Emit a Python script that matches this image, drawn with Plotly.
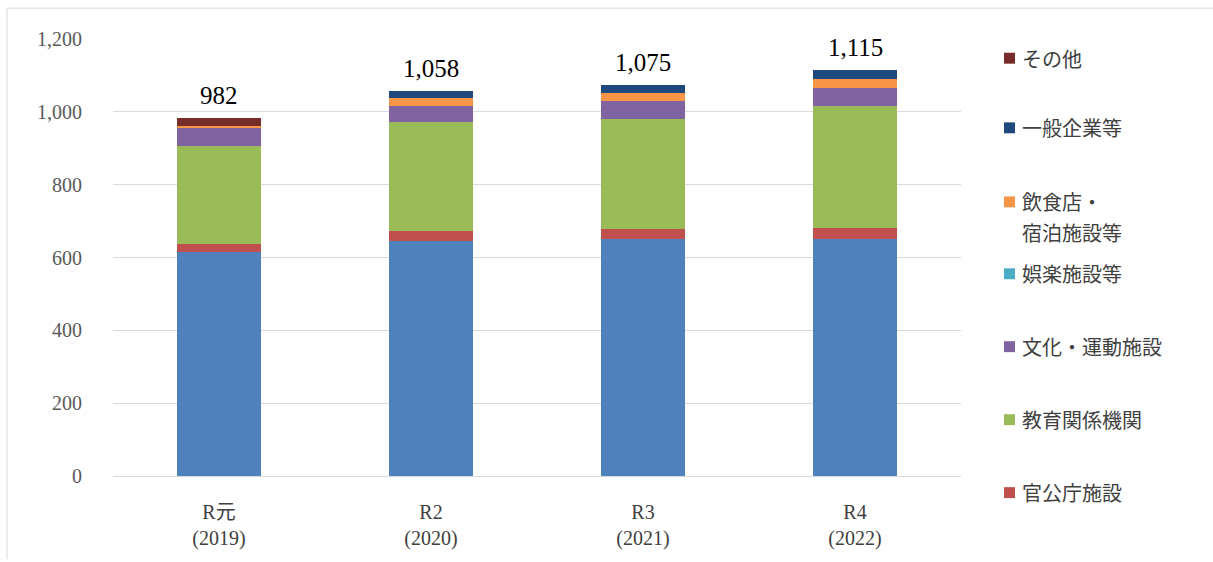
import plotly.graph_objects as go

# ---- data ----
categories = ["R元<br>(2019)", "R2<br>(2020)", "R3<br>(2021)", "R4<br>(2022)"]
medical = [614, 645, 651, 651]          # bottom blue segment (not in visible legend)
government = [22, 27, 26, 30]           # 官公庁施設
education = [270, 300, 304, 336]        # 教育関係機関
culture_sports = [50, 45, 48, 49]       # 文化・運動施設
entertainment = [0, 0, 0, 0]            # 娯楽施設等
restaurant_hotel = [5, 20, 23, 24]      # 飲食店・宿泊施設等
companies = [0, 21, 23, 25]             # 一般企業等
others = [21, 0, 0, 0]                  # その他
totals = [982, 1058, 1075, 1115]
y_ticks = [0, 200, 400, 600, 800, 1000, 1200]

series = [
    ("医療機関等", medical, "#4F81BD"),
    ("官公庁施設", government, "#C0504D"),
    ("教育関係機関", education, "#9BBB59"),
    ("文化・運動施設", culture_sports, "#8064A2"),
    ("娯楽施設等", entertainment, "#4BACC6"),
    ("飲食店・宿泊施設等", restaurant_hotel, "#F79646"),
    ("一般企業等", companies, "#1F497D"),
    ("その他", others, "#772C2A"),
]

W, H = 1213, 562
PL, PR, PT, PB = 113, 961, 39, 478.3


def px_x(px):
    return (px - PL) / (PR - PL)


def px_y(py):
    return (PB - py) / (PB - PT)


serif = "'Liberation Serif', 'Noto Sans CJK JP', serif"
gothic = "'Noto Sans CJK JP', sans-serif"

fig = go.Figure()
for name, vals, col in series:
    fig.add_trace(go.Bar(
        x=categories, y=vals, name=name,
        marker=dict(color=col, line=dict(width=0)),
        showlegend=False,
        hovertemplate=name + ": %{y}<extra></extra>",
    ))

# total labels
for c, t in zip(categories, totals):
    fig.add_annotation(x=c, y=t, text=f"{t:,}", showarrow=False,
                       xref="x", yref="y", yanchor="bottom", yshift=7,
                       font=dict(family=serif, size=25, color="#000000"))

# legend drawn manually (to match Excel spacing)
legend_items = [
    ("その他", "#772C2A", [58.3]),
    ("一般企業等", "#1F497D", [128.3]),
    ("飲食店・", "#F79646", [202.7]),
    ("宿泊施設等", None, [233.3]),
    ("娯楽施設等", "#4BACC6", [275]),
    ("文化・運動施設", "#8064A2", [348.3]),
    ("教育関係機関", "#9BBB59", [421.7]),
    ("官公庁施設", "#C0504D", [495]),
]
shapes = []
for label, col, (py,) in legend_items:
    fig.add_annotation(x=px_x(1020), y=px_y(py), xref="paper", yref="paper",
                       text=label, showarrow=False, xanchor="left", yanchor="middle",
                       font=dict(family=gothic, size=20, color="#404040"))
    if col:
        shapes.append(dict(type="rect", xref="paper", yref="paper",
                           x0=px_x(1004), x1=px_x(1015), y0=px_y(py + 5.5), y1=px_y(py - 5.5),
                           fillcolor=col, line=dict(width=0)))

# faint outer border (left and top)
shapes.append(dict(type="line", xref="paper", yref="paper",
                   x0=px_x(7), x1=px_x(7), y0=px_y(8), y1=px_y(562),
                   line=dict(color="#D9D9D9", width=1)))
shapes.append(dict(type="line", xref="paper", yref="paper",
                   x0=px_x(7), x1=px_x(1213), y0=px_y(8), y1=px_y(8),
                   line=dict(color="#D9D9D9", width=1)))

fig.update_layout(
    barmode="stack",
    bargap=0.6,
    width=W, height=H,
    margin=dict(l=PL, r=W - PR, t=PT, b=H - PB, pad=0),
    plot_bgcolor="white", paper_bgcolor="white",
    shapes=shapes,
    xaxis=dict(
        tickfont=dict(family=serif, size=20, color="#404040"),
        showgrid=False, showline=False, ticks="", ticklabelstandoff=22,
    ),
    yaxis=dict(
        range=[0, 1200], tickvals=y_ticks,
        ticktext=[f"{v:,}" for v in y_ticks],
        tickfont=dict(family=serif, size=20, color="#595959"),
        showgrid=True, gridcolor="#D9D9D9", gridwidth=1,
        zeroline=True, zerolinecolor="#D9D9D9", zerolinewidth=1,
        showline=False, ticks="", ticklabelstandoff=30,
    ),
)

fig.write_html("out.html", config={"displayModeBar": False},
               post_script="document.body.style.margin='0';")
